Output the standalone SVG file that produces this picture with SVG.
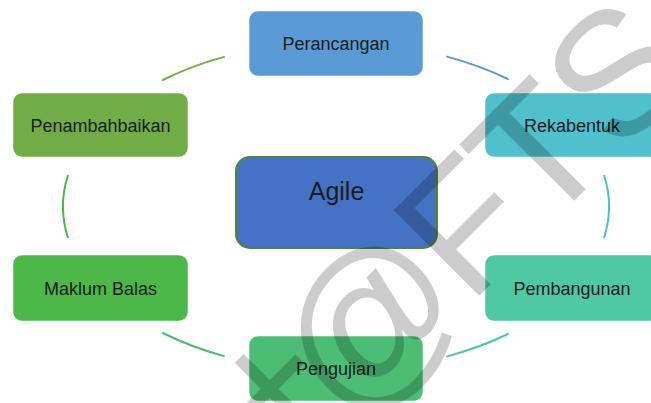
<svg xmlns="http://www.w3.org/2000/svg" width="651" height="403" viewBox="0 0 651 403">
  <style>
    .box { stroke-width: 1; stroke-opacity: 0.5; stroke: #ffffff; }
    .lbl { font-family: "Liberation Sans", Arial, sans-serif; font-size: 18px; fill: #1c1c1c; text-anchor: middle; }
    .title { font-family: "Liberation Sans", Arial, sans-serif; font-size: 25px; fill: #1c1c1c; text-anchor: middle; }
    .arc { fill: none; stroke-width: 2; stroke-linecap: round; }
    .wm { font-family: "Liberation Sans", Arial, sans-serif; font-size: 176px; fill: #000000; fill-opacity: 0.2; }
  </style>

  <rect width="651" height="403" fill="#ffffff"/>

  <!-- cycle connectors: arcs of one ellipse centred on the hub -->
  <g id="connectors">
    <path class="arc" stroke="#70ad47" d="M 162.9 80.0 A 273 164 0 0 1 224.0 56.9"/>
    <path class="arc" stroke="#5b9bd5" d="M 447.0 56.6 A 273 164 0 0 1 507.8 79.0"/>
    <path class="arc" stroke="#4fc0cc" d="M 604.2 175.8 A 273 164 0 0 1 604.2 237.2"/>
    <path class="arc" stroke="#4fc8a4" d="M 507.8 334.0 A 273 164 0 0 1 447.0 356.4"/>
    <path class="arc" stroke="#4cbe74" d="M 224.0 356.1 A 273 164 0 0 1 162.9 333.0"/>
    <path class="arc" stroke="#4cb848" d="M 67.8 237.2 A 273 164 0 0 1 67.8 175.8"/>
  </g>

  <g id="perancangan">
    <rect class="box" x="249" y="11" width="174" height="65" rx="9" fill="#5b9bd5"/>
    <text class="lbl" x="336" y="50">Perancangan</text>
  </g>

  <g id="rekabentuk">
    <rect class="box" x="485" y="93" width="174" height="64" rx="9" fill="#4fc0cc"/>
    <text class="lbl" x="572" y="131.5">Rekabentuk</text>
  </g>

  <g id="pembangunan">
    <rect class="box" x="485" y="255" width="174" height="66" rx="9" fill="#4fc8a4"/>
    <text class="lbl" x="572" y="294.5">Pembangunan</text>
  </g>

  <g id="pengujian">
    <rect class="box" x="249" y="336" width="174" height="65" rx="9" fill="#4cbe74"/>
    <text class="lbl" x="336" y="375">Pengujian</text>
  </g>

  <g id="maklum-balas">
    <rect class="box" x="13" y="255" width="175" height="66" rx="9" fill="#4cb848"/>
    <text class="lbl" x="100.5" y="294.5">Maklum Balas</text>
  </g>

  <g id="penambahbaikan">
    <rect class="box" x="13" y="93" width="175" height="64" rx="9" fill="#71ad47"/>
    <text class="lbl" x="100.5" y="131.5">Penambahbaikan</text>
  </g>

  <g id="agile">
    <rect x="236" y="157" width="201" height="91" rx="14" fill="#4472c4" stroke="#548235" stroke-width="2"/>
    <text class="title" x="336.5" y="200">Agile</text>
  </g>

  <!-- diagonal watermark -->
  <g id="watermark" transform="translate(479 296) rotate(-45)">
    <text class="wm" x="-265" y="-24">+</text>
    <text class="wm" x="-186" y="0">@</text>
    <text class="wm" x="-14" y="0">F</text>
    <text class="wm" x="89" y="0">T</text>
    <text class="wm" x="197" y="0">S</text>
  </g>
</svg>
